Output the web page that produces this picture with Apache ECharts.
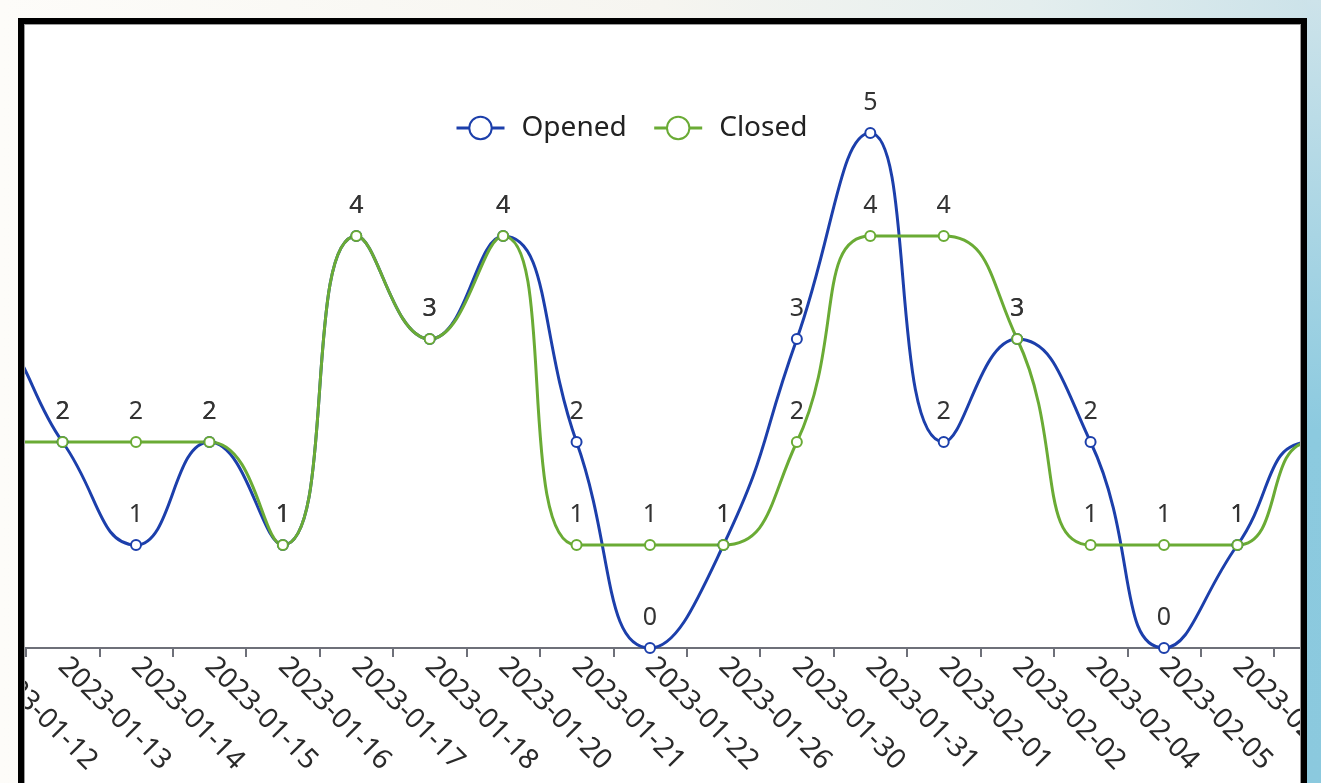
<!DOCTYPE html>
<html>
<head>
<meta charset="utf-8">
<script src="https://cdn.jsdelivr.net/npm/echarts@6/dist/echarts.min.js"></script>
<style>
  html, body { margin:0; padding:0; width:1321px; height:783px; overflow:hidden; }
  body {
    position: relative;
    background: linear-gradient(to right, #fdfcf9 0%, #f6f5f0 50%, #e4eeee 78%, #cbe2e9 100%);
  }
  #rightStrip {
    position:absolute; left:1307px; top:0; width:14px; height:783px;
    background: linear-gradient(to bottom, #cde3ea 0%, #a9d5e4 30%, #8ccadf 55%, #8bc9de 100%);
  }
  #frame {
    position:absolute; left:18px; top:18px; width:1277px; height:900px;
    border:6px solid #000; background:#fff; overflow:hidden;
  }
  #chart { position:absolute; left:-144.7px; top:0; width:1542.4px; height:760px; }
  #inset { position:absolute; left:0; top:0; right:0; bottom:0; box-shadow: inset 0 0 0 1px #9c9c9c; pointer-events:none; }
</style>
</head>
<body>
<div id="rightStrip"></div>
<div id="frame"><div id="chart"></div><div id="inset"></div></div>
<script>
var categories = ['2023-01-11','2023-01-12','2023-01-13','2023-01-14','2023-01-15','2023-01-16','2023-01-17','2023-01-18','2023-01-20','2023-01-21','2023-01-22','2023-01-26','2023-01-30','2023-01-31','2023-02-01','2023-02-02','2023-02-04','2023-02-05','2023-02-06','2023-02-07','2023-02-08'];
var openedValues = [2, 3, 2, 1, 2, 1, 4, 3, 4, 2, 0, 1, 3, 5, 2, 3, 2, 0, 1, 2, 2];
var closedValues = [2, 2, 2, 2, 2, 1, 4, 3, 4, 1, 1, 1, 2, 4, 4, 3, 1, 1, 1, 2, 2];
var seriesNames = ['Opened', 'Closed'];

var FONT = '"Noto Sans", "Open Sans", sans-serif';
var chart = echarts.init(document.getElementById('chart'));

function lineSeries(name, data, color) {
  return {
    name: name,
    type: 'line',
    data: data,
    smooth: true,
    symbol: 'emptyCircle',
    symbolSize: 10,
    lineStyle: { width: 3, color: color },
    itemStyle: { color: color, borderWidth: 2.2 },
    label: { show: true, position: 'top', distance: 12, fontSize: 25, color: '#333', fontFamily: FONT }
  };
}

chart.setOption({
  animation: false,
  backgroundColor: '#fff',
  color: ['#1c3fab', '#6aab35'],
  legend: {
    top: 85,
    left: 571,
    itemWidth: 48,
    itemHeight: 28,
    itemGap: 26,
    itemStyle: { borderWidth: 3 },
    lineStyle: { width: 3 },
    textStyle: { fontSize: 28, color: '#222', fontFamily: FONT, padding: [0, 0, 0, 12] },
    data: seriesNames
  },
  grid: { left: 0, right: 0, top: 109, bottom: 136, containLabel: false, outerBoundsMode: 'none' },
  xAxis: {
    type: 'category',
    data: categories,
    boundaryGap: true,
    axisLine: { show: true, lineStyle: { color: '#6e7079', width: 2 } },
    axisTick: { show: true, length: 9, lineStyle: { width: 2, color: '#6e7079' } },
    axisLabel: { rotate: -45, interval: 0, fontSize: 28, margin: 14, color: '#2a2a2a', fontFamily: FONT }
  },
  yAxis: { type: 'value', min: 0, max: 5, interval: 1, show: false, splitLine: { show: false } },
  series: [
    lineSeries(seriesNames[0], openedValues, '#1c3fab'),
    lineSeries(seriesNames[1], closedValues, '#6aab35')
  ]
});
</script>
</body>
</html>
